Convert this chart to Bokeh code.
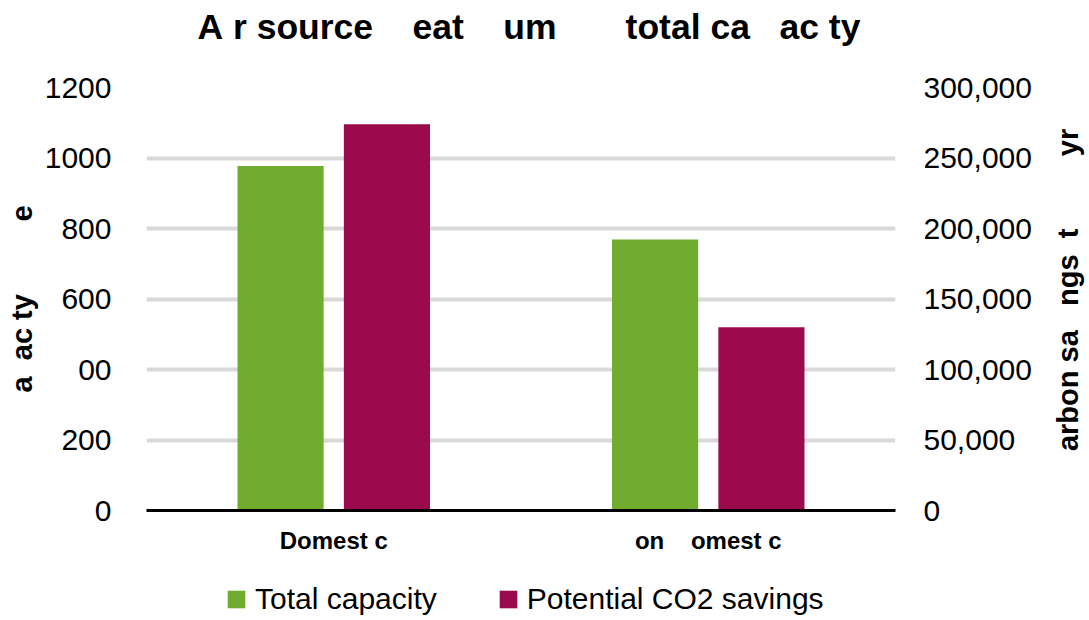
import math
from bokeh.plotting import figure
from bokeh.layouts import column, row
from bokeh.models import (FactorRange, Range1d, LinearAxis, FixedTicker, Title,
                          NumeralTickFormatter, Legend, LegendItem, ColumnDataSource)
from bokeh.core.properties import value
from bokeh.transform import dodge
from bokeh.embed import file_html
from bokeh.resources import INLINE

NB = "\u00a0"

# Data
categories = ["Domest" + NB + "c", "on" + NB * 4 + "omest" + NB + "c"]
total_capacity = [977, 769]            # left axis
co2_savings = [274000, 130000]         # right axis
capacity_ticks = [0, 200, 400, 600, 800, 1000, 1200]
capacity_tick_labels = {0: "0", 200: "200", 400: "00", 600: "600",
                        800: "800", 1000: "1000", 1200: "1200"}
savings_ticks = [0, 50000, 100000, 150000, 200000, 250000, 300000]

title_text = ("A" + NB + "r" + NB + "source" + NB * 4 + "eat" + NB * 4 + "um"
              + NB * 7 + "total" + NB + "ca" + NB * 3 + "ac" + NB + "ty")
left_title = "a" + NB * 2 + "ac" + NB + "ty" + NB * 9 + "e"
right_title = "arbon" + NB + "sa" + NB * 3 + "ngs" + NB * 2 + "t" + NB * 9 + "yr"
series_names = ["Total capacity", "Potential CO2 savings"]

GREEN = "#70ad2f"
MAROON = "#9c0a4e"
FONT = "Liberation Sans"

MAIN_W, MAIN_H = 1045, 560
SIDE_W = 1089 - MAIN_W
LEG_H = 620 - MAIN_H

source = ColumnDataSource(dict(cat=categories, cap=total_capacity, co2=co2_savings))

# ---- main chart ----
p = figure(frame_width=749, frame_height=423, x_range=FactorRange(factors=categories),
           y_range=Range1d(0, 1200), output_backend="svg", toolbar_location=None,
           min_border_left=146, min_border_right=MAIN_W - 146 - 749, min_border_top=87,
           min_border_bottom=MAIN_H - 87 - 423, title=None)
p.extra_y_ranges = {"co2": Range1d(0, 300000)}
p.outline_line_color = None
p.background_fill_color = "white"
p.border_fill_color = "white"

# Gap between the frame and the title, then the title itself
p.add_layout(Title(text=NB, text_font_size="1px", standoff=34), "above")
p.add_layout(Title(text=title_text, text_font=FONT, text_font_size="35.5px",
                   text_font_style="bold", text_color="black", align="left",
                   offset=51, standoff=8), "above")

bar_w = 0.23
r_cap = p.vbar(x=dodge("cat", -0.142, range=p.x_range), top="cap", width=bar_w,
               source=source, fill_color=GREEN, line_color=None)
r_co2 = p.vbar(x=dodge("cat", 0.142, range=p.x_range), top="co2", width=bar_w,
               source=source, fill_color=MAROON, line_color=None, y_range_name="co2")

p.xgrid.grid_line_color = None
p.ygrid.grid_line_color = "#d9d9d9"
p.ygrid.grid_line_width = 4

# Left axis
ya = p.yaxis[0]
ya.ticker = FixedTicker(ticks=capacity_ticks)
ya.major_label_overrides = capacity_tick_labels
ya.axis_label = left_title
ya.axis_line_color = None
ya.major_tick_line_color = None
ya.minor_tick_line_color = None
ya.major_label_standoff = 29
ya.major_label_text_font = FONT
ya.major_label_text_font_size = "30px"
ya.major_label_text_color = "black"
ya.axis_label_text_font = FONT
ya.axis_label_text_font_size = "29px"
ya.axis_label_text_font_style = "bold"
ya.axis_label_text_color = "black"
ya.axis_label_standoff = 4

# Right axis (its title is drawn in the side strip)
ra = LinearAxis(y_range_name="co2", ticker=FixedTicker(ticks=savings_ticks),
                formatter=NumeralTickFormatter(format="0,0"))
ra.axis_line_color = None
ra.major_tick_line_color = None
ra.minor_tick_line_color = None
ra.major_label_standoff = 22
ra.major_label_text_font = FONT
ra.major_label_text_font_size = "30px"
ra.major_label_text_color = "black"
p.add_layout(ra, "right")

# Category axis
xa = p.xaxis[0]
xa.axis_line_color = "black"
xa.axis_line_width = 3
xa.major_tick_line_color = None
xa.minor_tick_line_color = None
xa.major_label_standoff = 10
xa.major_label_text_font = FONT
xa.major_label_text_font_size = "24px"
xa.major_label_text_font_style = "bold"
xa.major_label_text_color = "black"

# ---- side strip with the right-hand axis title ----
side = figure(width=SIDE_W, height=MAIN_H, x_range=Range1d(0, SIDE_W),
              y_range=Range1d(0, MAIN_H), output_backend="svg", toolbar_location=None,
              x_axis_type=None, y_axis_type=None, min_border=0)
side.outline_line_color = None
side.grid.grid_line_color = None
side.text(x=[22], y=[MAIN_H - 268], text=[right_title], angle=math.pi / 2,
          text_align="center", text_baseline="middle", text_font=value(FONT),
          text_font_size="29px", text_font_style="bold", text_color="black")

# ---- legend strip ----
leg = figure(width=1089, height=LEG_H, x_range=Range1d(0, 1), y_range=Range1d(0, 1),
             output_backend="svg", toolbar_location=None,
             x_axis_type=None, y_axis_type=None, min_border=0)
leg.outline_line_color = None
leg.grid.grid_line_color = None
# swatch renderers sit outside the visible range; only their legend entries show
k_cap = leg.vbar(x=[5], top=[5], bottom=[4], width=0.1, fill_color=GREEN, line_color=None)
k_co2 = leg.vbar(x=[5], top=[5], bottom=[4], width=0.1, fill_color=MAROON, line_color=None)
legend = Legend(items=[LegendItem(label=series_names[0], renderers=[k_cap]),
                       LegendItem(label=series_names[1], renderers=[k_co2])],
                orientation="horizontal", location=(225, 4))
legend.label_text_font = FONT
legend.label_text_font_size = "30px"
legend.label_text_color = "black"
legend.glyph_width = 22
legend.glyph_height = 22
legend.label_standoff = 8
legend.spacing = 60
legend.padding = 0
legend.margin = 0
legend.border_line_color = None
legend.background_fill_alpha = 0
leg.add_layout(legend, "center")

layout = column(row(p, side, spacing=0), leg, spacing=0)
open("out.html", "w").write(file_html(layout, INLINE))
